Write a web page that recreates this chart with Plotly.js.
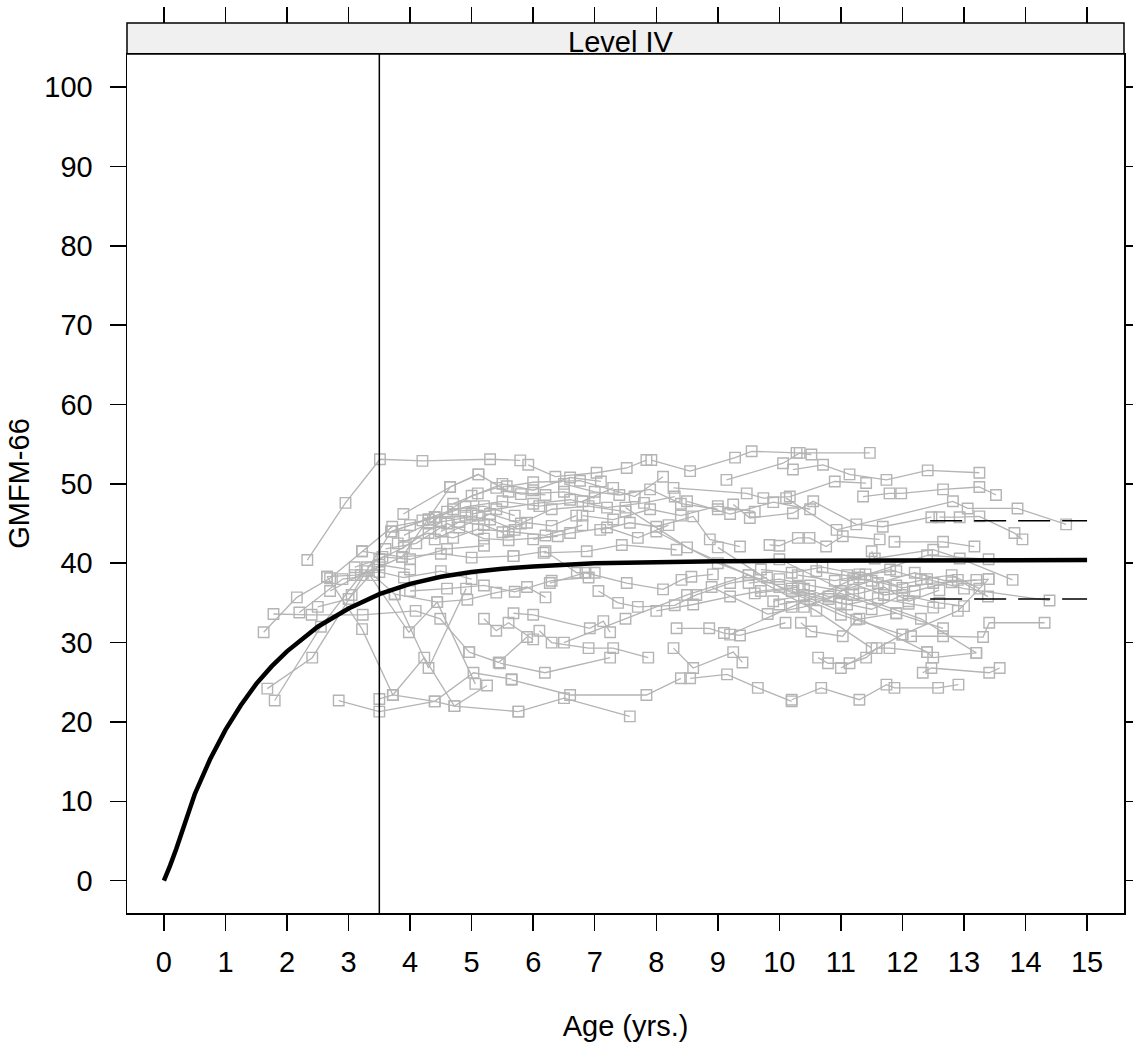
<!DOCTYPE html>
<html>
<head>
<meta charset="utf-8">
<script src="https://cdn.plot.ly/plotly-3.0.1.min.js"></script>
<style>
html,body{margin:0;padding:0;background:#fff;}
#chart{width:1133px;height:1044px;}
</style>
</head>
<body>
<div id="chart"></div>
<script>
// ---- Data ----
const panelLabel = "Level IV";
const xTicks = [0,1,2,3,4,5,6,7,8,9,10,11,12,13,14,15];
const yTicks = [0,10,20,30,40,50,60,70,80,90,100];

// Fitted mean curve
const curveAges   = [0,0.05,0.1,0.2,0.3,0.4,0.5,0.75,1,1.25,1.5,1.75,2,2.5,3,3.5,4,4.5,5,5.5,6,7,8,9,10,12,15];
const curveScores = [0,0.9,1.9,4.0,6.4,8.7,10.9,15.3,19.0,22.1,24.8,27.0,28.9,32.0,34.3,36.1,37.4,38.3,38.9,39.3,39.6,40.0,40.15,40.25,40.3,40.35,40.4];

// Reference age line
const refAge = 3.5;

// Dashed band at the right (limits)
const bandAges  = [12.45, 15];
const bandUpper = [45.35, 45.35];
const bandLower = [35.5, 35.5];

// Individual children: ages and GMFM-66 scores
const childAges = [
 [2.33,2.95,3.51,4.20,5.30,5.79],
 [1.62,2.16,2.70,3.22,3.71,4.30],
 [1.78,2.40,3.23,4.09,4.49,4.96],
 [1.68,2.41,3.05,3.69,4.40],
 [1.80,2.55,3.20,3.87,4.65,5.11],
 [2.84,3.50,4.40,5.03,5.65],
 [2.65,3.22,3.72,4.23,4.72,5.25],
 [2.70,3.30,3.98,4.44,5.06],
 [2.20,2.90,3.40,3.75,4.30,4.91],
 [2.50,3.00,3.50,4.00],
 [3.10,3.50,3.90,4.50,5.10],
 [5.92,6.36,7.03,7.52,7.84],
 [7.92,8.55,9.28,9.55,10.28,10.52],
 [9.14,10.06,10.33,11.47],
 [10.22,10.71,11.14,11.74,12.41,13.25],
 [5.57,6.00,6.76,7.65,8.11],
 [8.28,9.47,9.74,10.17,10.90,11.41],
 [11.36,11.79,11.98,12.66,13.25,13.52],
 [3.89,4.65,5.11,5.60,6.20],
 [4.30,4.90,5.50,6.10,6.80,7.30],
 [9.25,9.52,10.22,10.55,11.25,11.68,12.47],
 [10.11,10.93,12.82,13.06,13.87,14.66],
 [12.60,12.93,13.25,13.82,13.95],
 [7.09,7.57,8.00,8.60,8.87,9.36],
 [4.50,4.80,5.20,5.50,5.90,6.30,6.70],
 [4.20,4.60,5.00,5.40,5.80,6.50,7.00],
 [3.70,4.00,4.40,4.90,5.30,5.70],
 [3.80,4.30,4.70,5.10,5.60,6.20,6.80],
 [3.60,4.10,4.60,5.20,5.60,6.40],
 [5.00,5.40,6.00,6.60,7.20,7.80,8.30],
 [6.50,7.00,7.40,7.90,8.40,9.00],
 [8.50,9.20,9.90,10.50],
 [9.84,10.00,10.30,10.49,10.76,11.03,11.63],
 [11.87,12.66,13.17],
 [11.50,11.55,12.50,12.93,13.79],
 [6.17,6.87,7.44,8.33],
 [5.68,6.20,6.71,7.00],
 [3.22,3.87,4.50,5.00,5.68],
 [3.30,3.55,4.00,4.60,5.20],
 [6.27,6.85,7.52,8.11,8.41,8.57,8.92],
 [7.06,7.38,7.70,8.30,8.65,9.20,9.80],
 [9.50,10.00,10.50,11.00,11.50,12.00,12.50,13.20],
 [9.60,10.20,10.80,11.20,11.70,12.20,12.90,13.39],
 [10.30,10.90,11.40,11.90,12.40,13.00,14.39],
 [9.90,10.40,11.10,11.60,12.10,12.50],
 [8.90,9.81,10.40,11.00,11.90],
 [10.60,11.30,11.80,12.30,12.80,13.25],
 [3.75,4.44,4.93,5.40,5.90,6.20],
 [2.65,3.10,3.50,3.90,4.50,5.00],
 [4.00,4.60,5.20,5.70,6.30,6.90],
 [8.00,8.60,9.20,9.70,10.30],
 [5.68,6.00,6.92,7.14,7.25],
 [6.10,6.30,6.90,7.30,7.87],
 [8.33,8.86,9.10,9.36,10.10],
 [10.35,10.52,11.03,11.25,11.90,12.66],
 [12.14,12.66,13.31,13.41,14.31],
 [8.28,8.60,9.25,9.40],
 [10.63,10.79,11.14,11.41,11.58,11.79,12.40,12.50,13.20],
 [12.33,12.47,13.41,13.58],
 [5.46,6.19,7.25],
 [4.96,5.44,5.90],
 [5.20,5.40,5.60,6.00],
 [8.55,9.15,9.65,10.20],
 [10.20,10.68,11.30,11.74,11.87,12.58,12.91],
 [5.65,6.60,7.84,8.40],
 [5.76,6.50,7.57],
 [3.50,3.72,4.40,4.72,5.76],
 [7.50,8.50,9.50,10.60,11.50],
 [8.00,9.00,10.20,11.30,12.40],
 [9.00,10.00,11.00,12.00],
 [10.00,11.20,12.30,13.20],
 [6.50,7.50,8.50,9.50],
 [9.20,10.20,11.20,12.40,13.40],
 [11.00,12.00,12.90,13.40],
 [4.40,4.80,5.30,5.80,6.30,6.90,7.50],
 [4.70,5.10,5.50,6.00,6.60,7.10],
 [3.90,4.30,4.70,5.20,5.70],
 [10.40,10.80,11.30,11.70,12.10,12.60],
 [10.00,10.50,11.00,11.50,12.00,12.60,13.00],
 [11.10,11.60,12.20,12.80,13.40],
 [9.70,10.20,10.70,11.30,11.90],
 [6.80,7.30,7.90,8.40,9.00,9.60],
 [6.00,6.60,7.20,7.70,8.20]
];
const childScores = [
 [40.4,47.6,53.1,52.9,53.1,52.96],
 [31.3,35.7,38.1,41.5,44.6,45.5],
 [33.6,33.5,33.5,34.0,33.0,28.8],
 [24.2,28.1,36.0,44.0,45.8],
 [22.7,32.0,38.5,40.8,49.6,51.2],
 [22.7,21.3,22.6,26.2,25.4],
 [38.3,31.7,23.4,28.1,22.0,24.6],
 [36.5,39.0,31.3,35.1,24.8],
 [33.8,38.0,38.5,36.1,26.8,36.8],
 [34.5,35.5,39.8,39.2],
 [39.5,40.5,42.0,45.2,46.0],
 [52.4,50.9,51.4,52.0,53.0],
 [53.0,51.6,53.3,54.1,53.9,53.7],
 [50.5,52.6,53.9,53.9],
 [51.8,52.4,51.2,50.5,51.7,51.4],
 [49.7,50.2,50.4,48.4,50.9],
 [49.5,48.8,48.2,48.4,50.3,50.1],
 [48.4,48.8,48.8,49.3,49.6,48.6],
 [46.2,49.6,51.2,49.0,48.6],
 [45.5,47.1,47.8,47.2,47.8,49.5],
 [47.4,45.7,46.3,47.8,44.9,44.6,45.8],
 [48.2,44.2,47.8,46.9,46.9,44.9],
 [45.8,45.8,45.9,43.8,43.0],
 [44.2,45.1,44.6,45.9,43.0,42.1],
 [44.0,45.2,44.8,43.9,45.1,44.7,46.0],
 [45.4,46.5,48.5,49.5,48.7,49.0,48.2],
 [44.0,44.8,45.8,46.0,45.5,44.2],
 [42.5,43.8,43.2,44.3,44.0,43.5,44.8],
 [41.8,42.5,45.0,43.1,42.9,43.4],
 [46.2,46.8,47.5,48.0,47.0,47.6,48.4],
 [50.0,49.0,48.6,49.3,47.5,46.8],
 [47.8,46.2,47.7,46.8],
 [42.3,42.2,43.2,43.2,42.1,43.4,43.0],
 [42.7,42.7,42.1],
 [41.5,40.6,41.7,40.6,37.9],
 [41.3,41.5,42.3,41.7],
 [40.9,41.5,38.8,38.8],
 [41.5,40.8,41.2,40.7,40.9],
 [39.5,40.8,40.5,41.8,42.2],
 [37.5,38.8,37.5,36.7,37.9,38.3,38.6],
 [36.5,35.0,34.5,34.7,36.0,37.5,38.2],
 [37.5,38.0,37.2,36.5,37.8,36.9,37.5,37.9],
 [36.2,36.8,35.5,37.4,36.0,36.5,37.9,35.8],
 [38.5,37.8,38.6,37.2,38.0,36.8,35.3],
 [35.2,36.0,34.8,35.6,34.9,34.4],
 [37.0,33.6,34.5,36.2,33.7],
 [39.0,38.2,39.2,38.0,38.5,36.8],
 [36.1,35.1,35.4,36.3,37.0,35.7],
 [38.3,38.5,38.9,38.2,39.0,38.0],
 [36.5,36.8,37.2,36.4,37.8,38.2],
 [34.0,34.8,35.8,36.5,37.0],
 [33.7,33.5,31.8,32.7,31.3],
 [31.5,30.0,29.3,29.3,28.1],
 [31.8,31.8,31.2,30.9,32.5],
 [32.5,31.4,30.8,32.9,33.7,31.8],
 [30.8,30.8,30.7,32.5,32.5],
 [29.3,26.8,28.8,27.5],
 [28.1,27.4,27.4,28.1,29.3,29.3,28.8,28.1,28.7],
 [26.2,26.8,26.2,26.8],
 [27.4,26.2,28.1],
 [28.8,27.5,30.7],
 [33.0,31.5,32.5,30.4],
 [25.5,26.0,24.3,22.6],
 [22.8,24.3,22.8,24.7,24.3,24.3,24.7],
 [25.3,23.4,23.4,25.5],
 [21.3,23.0,20.7],
 [22.9,23.4,22.6,22.0,21.3],
 [47.0,42.0,38.5,34.0,29.3],
 [44.0,40.0,36.5,33.0,28.8],
 [42.0,37.0,33.5,31.0],
 [40.5,36.0,33.0,28.7],
 [30.0,33.0,36.0,38.5],
 [31.0,34.5,38.0,41.0,40.5],
 [26.8,31.0,34.0,38.0],
 [43.0,44.5,46.2,45.0,46.8,47.2,46.5],
 [47.5,48.8,50.0,49.2,50.8,50.3],
 [43.5,45.0,46.8,47.2,46.0],
 [36.8,35.8,36.2,37.0,35.2,36.6],
 [34.8,35.5,35.0,34.2,36.0,35.0,34.6],
 [38.5,37.5,38.8,37.6,38.0],
 [39.2,38.8,39.5,38.6,39.0],
 [46.0,45.5,46.8,46.0,47.2,46.5],
 [43.0,43.8,44.5,43.2,44.8]
];

// ---- Build traces ----
const xRange = [-0.6, 15.6];
const yRange = [-4.07, 104.16];
const FONT = "Liberation Sans, Arial, Helvetica, sans-serif";
const FS = 29;

const gx = [], gy = [];
childAges.forEach((a, i) => {
  a.forEach((v, j) => { gx.push(v); gy.push(childScores[i][j]); });
  gx.push(null); gy.push(null);
});

const traces = [
  {
    type: "scatter", mode: "lines+markers", x: gx, y: gy,
    connectgaps: false, hoverinfo: "skip", showlegend: false,
    line: {color: "#b4b4b4", width: 1.3},
    marker: {symbol: "square-open", size: 10.5, color: "#b4b4b4", line: {width: 1.4, color: "#b4b4b4"}}
  },
  {
    type: "scatter", mode: "lines", x: bandAges, y: bandUpper, showlegend: false,
    line: {color: "#000", width: 1.6, dash: "32px,12px"}
  },
  {
    type: "scatter", mode: "lines", x: bandAges, y: bandLower, showlegend: false,
    line: {color: "#000", width: 1.6, dash: "32px,12px"}
  },
  {
    type: "scatter", mode: "lines", x: curveAges, y: curveScores, showlegend: false,
    line: {color: "#000", width: 4.5, shape: "linear"}
  },
  {
    type: "scatter", mode: "markers", x: [0], y: [0], xaxis: "x2", yaxis: "y",
    marker: {opacity: 0}, hoverinfo: "skip", showlegend: false
  }
];

const plotH = 859, paperH = 890;
const topDom = plotH / paperH;

const layout = {
  width: 1133, height: 1044,
  margin: {l: 127, r: 9, t: 23, b: 131, pad: 0},
  paper_bgcolor: "#fff", plot_bgcolor: "#fff",
  font: {family: FONT, size: FS, color: "#000"},
  showlegend: false,
  xaxis: {
    range: xRange, tickvals: xTicks, ticktext: xTicks.map(String),
    ticks: "outside", ticklen: 16, tickwidth: 1.5, tickcolor: "#000",
    showline: true, linecolor: "#000", linewidth: 1.5, mirror: true,
    showgrid: false, zeroline: false,
    tickfont: {family: FONT, size: FS, color: "#000"},
    ticklabelstandoff: 7,
    title: {text: "Age (yrs.)", font: {family: FONT, size: FS, color: "#000"}, standoff: 38}
  },
  xaxis2: {
    range: xRange, tickvals: xTicks, overlaying: "x", side: "top",
    anchor: "free", position: 1,
    ticks: "outside", ticklen: 16, tickwidth: 1.5, tickcolor: "#000",
    showticklabels: false, showline: false, showgrid: false, zeroline: false
  },
  yaxis: {
    range: yRange, domain: [0, topDom], tickvals: yTicks, ticktext: yTicks.map(String),
    ticks: "outside", ticklen: 16, tickwidth: 1.5, tickcolor: "#000",
    showline: true, linecolor: "#000", linewidth: 1.5, mirror: "ticks",
    showgrid: false, zeroline: false,
    tickfont: {family: FONT, size: FS, color: "#000"},
    ticklabelstandoff: 11,
    title: {text: "GMFM-66", font: {family: FONT, size: FS, color: "#000"}, standoff: 6}
  },
  shapes: [
    {type: "rect", xref: "paper", yref: "paper", x0: 0, x1: 1, y0: topDom, y1: 1,
     fillcolor: "#f0f0f0", line: {color: "#000", width: 1.5}, layer: "below"},
    {type: "line", xref: "x", yref: "paper", x0: refAge, x1: refAge, y0: 0, y1: topDom,
     line: {color: "#000", width: 1.5}}
  ],
  annotations: [
    {text: panelLabel, xref: "paper", yref: "paper", x: 0.495, y: topDom, yshift: -6,
     xanchor: "center", yanchor: "bottom", showarrow: false,
     font: {family: FONT, size: FS, color: "#000"}}
  ]
};

Plotly.newPlot("chart", traces, layout, {displayModeBar: false, staticPlot: true});
</script>
</body>
</html>
